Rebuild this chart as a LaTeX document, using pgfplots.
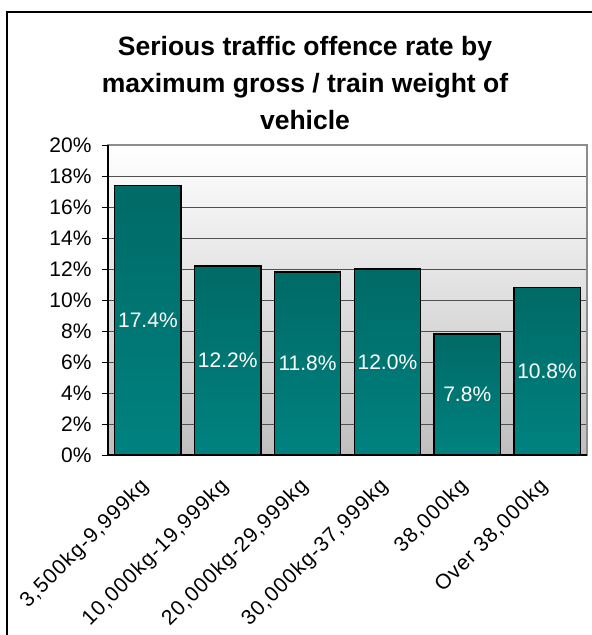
\documentclass[border=0pt]{standalone}
\usepackage{fontspec}
\setmainfont{Liberation Sans}
\usepackage{pgfplots}
\usepackage{pgfplotstable}
\pgfplotsset{compat=1.18}
\definecolor{tealtop}{RGB}{0,106,102}
\definecolor{tealbot}{RGB}{0,130,128}
\definecolor{bggray}{RGB}{190,190,190}
\definecolor{gridgray}{RGB}{80,80,80}
\definecolor{framegray}{RGB}{140,140,140}
\pgfplotstableread{
x v lab
0 0.174 17.4
1 0.122 12.2
2 0.118 11.8
3 0.120 12.0
4 0.078 7.8
5 0.108 10.8
}\data
\begin{document}
\begin{tikzpicture}[x=1pt,y=1pt]
\useasboundingbox (-108,-180) rectangle (484,455);
\draw[line width=1.5pt] (-101,-190) -- (-101,443) -- (495,443);
\node[align=center, font=\bfseries\fontsize{26.5}{37}\selectfont] at (197,372)
  {Serious traffic offence rate by\\maximum gross / train weight of\\vehicle};
\begin{axis}[
  at={(0,0)}, anchor=south west,
  scale only axis, width=479pt, height=310pt,
  xmin=-0.5, xmax=5.5, ymin=0, ymax=0.2,
  axis background/.style={shade, top color=white, bottom color=bggray},
  axis line style={framegray, line width=1.5pt},
  ymajorgrids, grid style={gridgray, line width=0.9pt},
  ytick={0,0.02,...,0.2},
  yticklabels={0\%,2\%,4\%,6\%,8\%,10\%,12\%,14\%,16\%,18\%,20\%},
  yticklabel style={font=\fontsize{21}{24}\selectfont, xshift=-7pt},
  ytick pos=left, tick align=outside, major tick length=6pt,
  tick style={black, line width=0.9pt},
  xtick={0,1,2,3,4,5},
  xticklabels={{3,500kg-9,999kg},{10,000kg-19,999kg},{20,000kg-29,999kg},{30,000kg-37,999kg},{38,000kg},{Over 38,000kg}},
  x tick style={draw=none},
  xticklabel style={font=\fontsize{21}{24}\selectfont\addfontfeatures{LetterSpace=5}, xshift=0pt, yshift=-20pt, rotate=45, anchor=east},
  extra x ticks={-0.5,0.5,1.5,2.5,3.5,4.5,5.5},
  extra x tick labels={},
  extra x tick style={grid=none, xtick pos=bottom, tick style={black, line width=0.9pt, draw=black}},
  clip=false,
]
\addplot[ybar, bar width=0.83, bar shift=0pt, draw=black, line width=1.3pt, top color=tealtop, bottom color=tealbot] coordinates {(0,0.174)};
\addplot[ybar, bar width=0.83, bar shift=0pt, draw=black, line width=1.3pt, top color=tealtop, bottom color=tealbot] coordinates {(1,0.122)};
\addplot[ybar, bar width=0.83, bar shift=0pt, draw=black, line width=1.3pt, top color=tealtop, bottom color=tealbot] coordinates {(2,0.118)};
\addplot[ybar, bar width=0.83, bar shift=0pt, draw=black, line width=1.3pt, top color=tealtop, bottom color=tealbot] coordinates {(3,0.120)};
\addplot[ybar, bar width=0.83, bar shift=0pt, draw=black, line width=1.3pt, top color=tealtop, bottom color=tealbot] coordinates {(4,0.078)};
\addplot[ybar, bar width=0.83, bar shift=0pt, draw=black, line width=1.3pt, top color=tealtop, bottom color=tealbot] coordinates {(5,0.108)};
\addplot[only marks, mark=none, point meta=explicit symbolic,
  nodes near coords={\pgfplotspointmeta\%},
  every node near coord/.style={anchor=center, text=white, font=\fontsize{21}{24}\selectfont}]
  table[x=x, y expr=\thisrow{v}/2, meta=lab] {\data};
\draw[black, line width=1.3pt] (rel axis cs:0,1) -- (rel axis cs:0,0) -- (rel axis cs:1,0);
\end{axis}
\end{tikzpicture}
\end{document}
